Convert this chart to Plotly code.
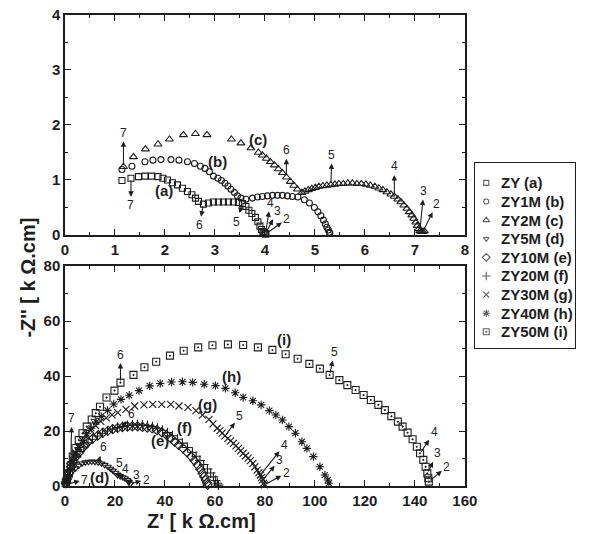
import plotly.graph_objects as go

# ---------------- top panel data (k ohm.cm) ----------------
a_x = [1.14, 1.32, 1.47, 1.6, 1.73, 1.86, 1.96, 2.05, 2.15, 2.25, 2.35, 2.45, 2.54, 2.61, 2.67,
       2.77, 2.87, 2.97, 3.07, 3.17, 3.27, 3.37, 3.47, 3.55, 3.62, 3.68, 3.74, 3.81, 3.86, 3.9,
       3.93, 3.96, 3.98, 4.0, 4.01, 4.02]
a_y = [0.99, 1.03, 1.06, 1.07, 1.07, 1.06, 1.03, 1.0, 0.95, 0.91, 0.85, 0.79, 0.73, 0.67, 0.61,
       0.56, 0.58, 0.6, 0.6, 0.6, 0.6, 0.6, 0.59, 0.57, 0.52, 0.45, 0.39, 0.32, 0.24, 0.16,
       0.1, 0.06, 0.04, 0.03, 0.02, 0.02]

b_x = [1.14, 1.34, 1.6, 1.76, 1.92, 2.12, 2.28, 2.45, 2.59, 2.71, 2.8, 2.89, 2.97, 3.06, 3.13,
       3.2, 3.26, 3.32, 3.39, 3.45, 3.52, 3.62, 3.75, 3.85, 3.95, 4.05, 4.15, 4.25, 4.35, 4.45,
       4.55, 4.66, 4.79, 4.89, 4.99, 5.06, 5.12, 5.17, 5.21, 5.24, 5.27, 5.29, 5.3]
b_y = [1.19, 1.25, 1.33, 1.36, 1.37, 1.37, 1.36, 1.33, 1.30, 1.25, 1.21, 1.15, 1.07, 1.03, 0.99,
       0.94, 0.89, 0.83, 0.77, 0.71, 0.67, 0.65, 0.67, 0.69, 0.70, 0.71, 0.72, 0.72, 0.72, 0.71,
       0.70, 0.69, 0.64, 0.58, 0.50, 0.42, 0.35, 0.27, 0.20, 0.14, 0.09, 0.05, 0.03]

c_x = [1.17, 1.37, 1.61, 1.86, 2.09, 2.37, 2.61, 2.84, 3.33, 3.52, 3.72,
       3.87, 3.95, 4.03, 4.11, 4.19, 4.27, 4.35, 4.43, 4.51, 4.58, 4.65,
       4.74, 4.80, 4.87, 4.94, 5.01, 5.08, 5.16, 5.24, 5.32, 5.40, 5.48, 5.57, 5.66, 5.75, 5.84,
       5.93, 6.02, 6.11, 6.20, 6.28, 6.36, 6.44, 6.52, 6.59, 6.66, 6.72, 6.78, 6.84, 6.89, 6.94,
       6.98, 7.02, 7.05, 7.08, 7.10, 7.13, 7.16, 7.19]
c_y = [1.24, 1.42, 1.56, 1.65, 1.74, 1.82, 1.84, 1.82, 1.74, 1.67, 1.58,
       1.5, 1.45, 1.39, 1.33, 1.27, 1.2, 1.13, 1.05, 0.97, 0.9, 0.83,
       0.77, 0.79, 0.82, 0.84, 0.86, 0.88, 0.89, 0.90, 0.91, 0.92, 0.93, 0.93, 0.94, 0.94, 0.93,
       0.93, 0.92, 0.90, 0.88, 0.85, 0.82, 0.78, 0.74, 0.70, 0.65, 0.60, 0.54, 0.48, 0.42, 0.36,
       0.30, 0.23, 0.17, 0.11, 0.07, 0.06, 0.06, 0.07]

# ---------------- bottom panel data (k ohm.cm) ----------------
d_x = [0.3, 0.8, 1.6, 2.6, 4.2, 5.5, 6.8, 8.1, 9.4, 10.7, 12, 13.3, 14.6, 15.9, 17.2,
       18.2, 19.2, 20.2, 21.1, 22.1, 23.1, 24, 25, 25.6, 26.1]
d_y = [0.5, 1.5, 3.4, 5.0, 6.4, 7.4, 8.2, 8.6, 8.8, 8.9, 8.8, 8.6, 8.2, 7.7, 7.0,
       6.3, 5.6, 4.8, 4.0, 3.6, 3.2, 2.8, 2.2, 1.5, 0.8]

e_x = [0.3, 0.8, 1.6, 2.5, 3.5, 4.5, 5.5, 7, 8.2, 9.4, 11.3, 13.3, 15.2, 17.2, 19.1,
       21.1, 23, 25, 27, 29, 31, 32.9, 34.9, 36.8, 38.8, 40.7, 42.3, 43.9, 45.5, 47.2,
       48.9, 50.5, 51.8, 53.1, 54.1, 55, 55.7, 56.3, 56.8, 57.1]
e_y = [1, 2.5, 4.6, 7, 9, 10.8, 12, 13.8, 15, 16.1, 17.4, 18.5, 19.4, 20.1, 20.7,
       21.1, 21.4, 21.6, 21.7, 21.7, 21.5, 21.2, 20.9, 20.3, 19.5, 18.5, 17.4, 16.1, 14.9, 13.7,
       12.2, 10.7, 9.2, 7.6, 6.1, 4.6, 3.4, 2.2, 1.2, 0.4]

f_x = [0.5, 1.2, 2.2, 3.3, 4.5, 6, 7.5, 9.2, 11, 13, 15, 17, 19, 21, 23, 25, 27, 29, 31, 33,
       35, 37, 39, 41, 43, 45, 47, 49, 51, 52.5, 54, 55.5, 57, 58.3, 59.4, 60.3, 61, 61.4]
f_y = [1.5, 3.5, 6, 8.5, 10.5, 12.5, 14.2, 15.7, 17, 18.2, 19.2, 20, 20.7, 21.3, 21.7, 22, 22.2,
       22.3, 22.2, 22, 21.6, 21, 20.3, 19.4, 18.3, 17, 15.6, 14, 12.3, 10.8, 9.3, 7.8, 6.2, 4.7,
       3.3, 2, 1, 0.3]

g_x = [0.5, 1.2, 2, 3, 4.2, 5.5, 7, 8.5, 10.3, 12.2, 14.3, 16.5, 18.8, 21.1, 24.4, 27.9, 31.6,
       35.1, 38.7, 42.3, 45.6, 49.2, 52.4, 55, 57.6, 59.2, 60.9, 62, 62.9, 64, 65.2, 66.3, 67.4,
       68.4, 69.4, 70.3, 71.3, 72.3, 73.3, 74.2, 75.2, 76, 76.9, 77.6, 78.2, 78.7, 79.1, 79.5, 79.8]
g_y = [2, 4.5, 7, 9.5, 12, 14.3, 16.5, 18.5, 20.3, 22, 23.5, 24.8, 25.9, 26.7, 27.9, 29.1, 29.5,
       29.7, 29.7, 29.7, 29.1, 28.6, 27.4, 25.8, 24.2, 22.6, 21, 20.1, 19.2, 18.2, 17.3, 16.4, 15.5,
       14.6, 13.7, 12.8, 11.9, 11, 10.1, 9.2, 8.2, 7, 5.8, 4.9, 4, 3.1, 2.2, 1, 0.4]

h_x = [0.5, 1, 1.8, 2.8, 4, 5.5, 7, 8.7, 10.5, 12.5, 14.5, 17, 19.5, 22.4, 25.7, 29.6, 33.9,
       38.1, 42.6, 47, 51.1, 55.7, 60.2, 64.2, 68.1, 71.3, 75.2, 78.5, 81.8, 84.4, 87, 89.6,
       92.2, 94.8, 96.8, 99.4, 102, 104, 105.2, 105.6]
h_y = [1.5, 3.5, 6, 8.5, 11.5, 14, 16.5, 19, 21, 23.3, 25.3, 27.5, 29.8, 31.5, 33, 34.7, 36.4,
       37.3, 37.8, 37.9, 37.7, 37, 36.5, 35.5, 33.9, 32.2, 31, 29.5, 27.4, 25.8, 24, 21.6,
       19.2, 16.1, 13.7, 10.7, 7, 4, 2.2, 1]

i_x = [0.3, 0.8, 1.6, 2.3, 3.1, 4.2, 5.5, 7, 8.7, 10.7, 12.3, 14, 16.6, 19.8, 22.2, 27.4, 31.8,
       36.5, 42, 47.5, 53.3, 59, 65.2, 71.3, 77.2, 83, 88.3, 93.1, 97.8, 102, 105.9, 109.8, 113,
       116.3, 119.5, 122.4, 125.4, 128, 130.6, 133.2, 135.1, 137.1, 139.1, 140.8, 142.1, 143.4,
       144.3, 145, 145.4, 145.6]
i_y = [1, 2.5, 4.6, 7.5, 10.7, 13.8, 16.7, 19.2, 21.6, 24.2, 26.5, 28.8, 32.2, 34.7, 37.6, 40.4,
       43.2, 45.2, 47.4, 49.2, 50.4, 51.2, 51.5, 51.3, 50.4, 49.5, 47.9, 46.3, 44.4, 42.7, 40.4,
       38.5, 36.7, 34.9, 33.1, 31.3, 29.5, 27.6, 25.4, 23.4, 21.6, 19.4, 17, 14.3, 11.9, 9.5,
       7, 4.6, 2.8, 1.6]

names = ["ZY (a)", "ZY1M (b)", "ZY2M (c)", "ZY5M (d)", "ZY10M (e)",
         "ZY20M (f)", "ZY30M (g)", "ZY40M (h)", "ZY50M (i)"]

INK = "#1e1e1e"
FONT = "Liberation Sans, Arial, sans-serif"

series = [
    (a_x, a_y, "square-open", 6, "x", "y"),
    (b_x, b_y, "circle-open", 6, "x", "y"),
    (c_x, c_y, "triangle-up-open", 7, "x", "y"),
    (d_x, d_y, "triangle-down-open", 6, "x2", "y2"),
    (e_x, e_y, "diamond-open", 7, "x2", "y2"),
    (f_x, f_y, "cross-thin-open", 7, "x2", "y2"),
    (g_x, g_y, "x-thin-open", 7, "x2", "y2"),
    (h_x, h_y, "asterisk-open", 7, "x2", "y2"),
    (i_x, i_y, "square-open-dot", 7, "x2", "y2"),
]

fig = go.Figure()
for name, (xs, ys, sym, sz, xa, ya) in zip(names, series):
    fig.add_trace(go.Scatter(
        x=xs, y=ys, name=name, mode="markers", xaxis=xa, yaxis=ya, cliponaxis=False,
        showlegend=False,
        marker=dict(symbol=sym, size=sz, color=INK, line=dict(color=INK, width=1.1)),
    ))

# ---- legend drawn in its own small axis box (entry k sits on row k) ----
rows = list(range(len(names)))
fig.add_trace(go.Scatter(
    x=[12] * len(names), y=rows, mode="markers", xaxis="x3", yaxis="y3",
    showlegend=False, hoverinfo="skip", cliponaxis=False,
    marker=dict(symbol=[s[2] for s in series], size=[s[3] - 1 for s in series],
                color=INK, line=dict(color=INK, width=1.1)),
))


def num(xs, ys, idx, text, ax, ay, xr, yr):
    return dict(x=xs[idx], y=ys[idx], xref=xr, yref=yr, text=text, showarrow=True,
                ax=ax, ay=ay, arrowside="start", startarrowhead=2, startarrowsize=1,
                arrowwidth=1.1, arrowcolor=INK, standoff=2, startstandoff=0,
                font=dict(family=FONT, size=12, color=INK))


def lab(x, y, text, xr, yr):
    return dict(x=x, y=y, xref=xr, yref=yr, text=text, showarrow=False,
                font=dict(family=FONT, size=15, color=INK, weight="bold"))


ann = [
    # top panel
    num(c_x, c_y, 0, "7", 0, -34, "x", "y"),
    num(a_x, a_y, 1, "7", 0, 27, "x", "y"),
    num(a_x, a_y, 15, "6", -4, 21, "x", "y"),
    num(a_x, a_y, 23, "5", -6, 18, "x", "y"),
    num(a_x, a_y, 34, "4", 5, -31, "x", "y"),
    num(a_x, a_y, 34, "3", 12, -23, "x", "y"),
    num(a_x, a_y, 35, "2", 21, -15, "x", "y"),
    num(c_x, c_y, 18, "6", 0, -27, "x", "y"),
    num(c_x, c_y, 30, "5", 1, -30, "x", "y"),
    num(c_x, c_y, 45, "4", 0, -30, "x", "y"),
    num(c_x, c_y, 56, "3", 4, -40, "x", "y"),
    num(c_x, c_y, 58, "2", 14, -28, "x", "y"),
    lab(1.99, 0.8, "(a)", "x", "y"),
    lab(3.05, 1.33, "(b)", "x", "y"),
    lab(3.87, 1.74, "(c)", "x", "y"),
    # bottom panel
    num(i_x, i_y, 3, "7", 1, -47, "x2", "y2"),
    num(i_x, i_y, 14, "6", 0, -28, "x2", "y2"),
    num(i_x, i_y, 30, "5", 5, -23, "x2", "y2"),
    num(i_x, i_y, 44, "4", 14, -21, "x2", "y2"),
    num(i_x, i_y, 47, "3", 10, -20, "x2", "y2"),
    num(i_x, i_y, 49, "2", 18, -15, "x2", "y2"),
    num(g_x, g_y, 29, "5", 15, -20, "x2", "y2"),
    num(g_x, g_y, 44, "4", 24, -30, "x2", "y2"),
    num(g_x, g_y, 46, "3", 17, -20, "x2", "y2"),
    num(g_x, g_y, 48, "2", 22, -12, "x2", "y2"),
    num(f_x, f_y, 14, "6", 9, -12, "x2", "y2"),
    num(d_x, d_y, 11, "6", 5, -15, "x2", "y2"),
    num(d_x, d_y, 19, "5", -1, -13, "x2", "y2"),
    num(d_x, d_y, 21, "4", 1, -9, "x2", "y2"),
    num(d_x, d_y, 23, "3", 8, -7, "x2", "y2"),
    num(d_x, d_y, 24, "2", 16, -4, "x2", "y2"),
    num(d_x, d_y, 0, "7", 19, -5, "x2", "y2"),
    lab(14, 3, "(d)", "x2", "y2"),
    lab(38.1, 16.7, "(e)", "x2", "y2"),
    lab(47.9, 21.2, "(f)", "x2", "y2"),
    lab(57, 29.7, "(g)", "x2", "y2"),
    lab(66.8, 39.7, "(h)", "x2", "y2"),
    lab(87.6, 53.3, "(i)", "x2", "y2"),
    # axis titles
    dict(x=0.268, y=-0.074, xref="paper", yref="paper", text="Z' [ k \u03a9.cm]",
         showarrow=False, xanchor="center", yanchor="middle",
         font=dict(family=FONT, size=20, color=INK, weight="bold")),
    dict(x=-0.073, y=0.442, xref="paper", yref="paper", text="-Z'' [ k \u03a9.cm]",
         showarrow=False, textangle=-90, xanchor="center", yanchor="middle",
         font=dict(family=FONT, size=20, color=INK, weight="bold")),
]
# legend texts
for k, name in zip(rows, names):
    ann.append(dict(x=25, y=k, xref="x3", yref="y3", text=name, showarrow=False,
                    xanchor="left", yanchor="middle",
                    font=dict(family=FONT, size=15, color=INK, weight="bold")))

axis_common = dict(showline=True, linecolor=INK, linewidth=1.5, mirror="ticks",
                   ticks="inside", ticklen=6, tickwidth=1.3, tickcolor=INK,
                   showgrid=False, zeroline=False,
                   tickfont=dict(family=FONT, size=15, color=INK, weight="bold"))

XD = 410 / 523  # main plot width fraction

fig.update_layout(
    width=590, height=534,
    margin=dict(l=65, r=2, t=15, b=48),
    paper_bgcolor="white", plot_bgcolor="white",
    showlegend=False,
    xaxis=dict(domain=[0, XD], anchor="y", range=[0, 8], dtick=1,
               minor=dict(dtick=0.5, ticklen=3, tickcolor=INK, ticks="inside"), **axis_common),
    yaxis=dict(domain=[0.533, 1], anchor="x", range=[0, 4], dtick=1,
               minor=dict(dtick=0.5, ticklen=3, tickcolor=INK, ticks="inside"), **axis_common),
    xaxis2=dict(domain=[0, XD], anchor="y2", range=[0, 160], dtick=20,
                minor=dict(dtick=10, ticklen=3, tickcolor=INK, ticks="inside"), **axis_common),
    yaxis2=dict(domain=[0, 0.467], anchor="x2", range=[0, 80], dtick=20,
                minor=dict(dtick=10, ticklen=3, tickcolor=INK, ticks="inside"), **axis_common),
    xaxis3=dict(domain=[420 / 523, 1.0], anchor="y3", range=[0, 103],
                showticklabels=False, ticks="", showgrid=False, zeroline=False,
                showline=True, mirror=True, linecolor=INK, linewidth=1.2, fixedrange=True),
    yaxis3=dict(domain=[0.293, 0.686], anchor="x3", range=[8.87, -1.075],
                showticklabels=False, ticks="", showgrid=False, zeroline=False,
                showline=True, mirror=True, linecolor=INK, linewidth=1.2, fixedrange=True),
    annotations=ann,
)

fig.write_html("out.html")
